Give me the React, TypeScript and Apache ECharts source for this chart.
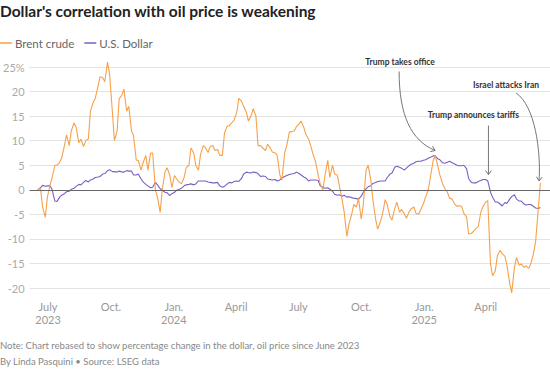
import React, { useEffect, useRef } from "react";
import * as echarts from "echarts";

// Twice-weekly observations (Fridays and the following Tuesdays)
const dates = [
  "2023-06-16","2023-06-20","2023-06-23","2023-06-27","2023-06-30","2023-07-04","2023-07-07","2023-07-11","2023-07-14","2023-07-18","2023-07-21","2023-07-25","2023-07-28","2023-08-01",
  "2023-08-04","2023-08-08","2023-08-11","2023-08-15","2023-08-18","2023-08-22","2023-08-25","2023-08-29","2023-09-01","2023-09-05","2023-09-08","2023-09-12","2023-09-15","2023-09-19","2023-09-22","2023-09-26","2023-09-29","2023-10-03",
  "2023-10-06","2023-10-10","2023-10-13","2023-10-17","2023-10-20","2023-10-24","2023-10-27","2023-10-31","2023-11-03","2023-11-07","2023-11-10","2023-11-14","2023-11-17","2023-11-21","2023-11-24","2023-11-28",
  "2023-12-01","2023-12-05","2023-12-08","2023-12-12","2023-12-15","2023-12-19","2023-12-22","2023-12-26","2023-12-29","2024-01-02",
  "2024-01-05","2024-01-09","2024-01-12","2024-01-16","2024-01-19","2024-01-23","2024-01-26","2024-01-30","2024-02-02","2024-02-06","2024-02-09","2024-02-13","2024-02-16","2024-02-20","2024-02-23","2024-02-27",
  "2024-03-01","2024-03-05","2024-03-08","2024-03-12","2024-03-15","2024-03-19","2024-03-22","2024-03-26","2024-03-29","2024-04-02","2024-04-05","2024-04-09","2024-04-12","2024-04-16","2024-04-19","2024-04-23","2024-04-26","2024-04-30",
  "2024-05-03","2024-05-07","2024-05-10","2024-05-14","2024-05-17","2024-05-21","2024-05-24","2024-05-28","2024-05-31","2024-06-04","2024-06-07","2024-06-11","2024-06-14","2024-06-18","2024-06-21","2024-06-25","2024-06-28","2024-07-02",
  "2024-07-05","2024-07-09","2024-07-12","2024-07-16","2024-07-19","2024-07-23","2024-07-26","2024-07-30","2024-08-02","2024-08-06","2024-08-09","2024-08-13","2024-08-16","2024-08-20","2024-08-23","2024-08-27","2024-08-30","2024-09-03",
  "2024-09-06","2024-09-10","2024-09-13","2024-09-17","2024-09-20","2024-09-24","2024-09-27","2024-10-01","2024-10-04","2024-10-08","2024-10-11","2024-10-15","2024-10-18","2024-10-22","2024-10-25","2024-10-29",
  "2024-11-01","2024-11-05","2024-11-08","2024-11-12","2024-11-15","2024-11-19","2024-11-22","2024-11-26","2024-11-29","2024-12-03","2024-12-06","2024-12-10","2024-12-13","2024-12-17","2024-12-20","2024-12-24","2024-12-27","2024-12-31",
  "2025-01-03","2025-01-07","2025-01-10","2025-01-14","2025-01-17","2025-01-21","2025-01-24","2025-01-28","2025-01-31","2025-02-04","2025-02-07","2025-02-11","2025-02-14","2025-02-18","2025-02-21","2025-02-25","2025-02-28","2025-03-04",
  "2025-03-07","2025-03-11","2025-03-14","2025-03-18","2025-03-21","2025-03-25","2025-03-28","2025-04-01","2025-04-04","2025-04-08","2025-04-11","2025-04-15","2025-04-18","2025-04-22","2025-04-25","2025-04-29",
  "2025-05-02","2025-05-06","2025-05-09","2025-05-13","2025-05-16","2025-05-20","2025-05-23","2025-05-27","2025-05-30","2025-06-03","2025-06-06","2025-06-10","2025-06-13","2025-06-17","2025-06-20"
];

// Brent crude, % change since June 2023
const brent = [
  0, 0.3, -3.5, -5.6, -1.5, 1, 2.5, 5, 5, 5.6, 6.5, 9, 11.2, 9,
  12, 13.6, 12.8, 9.6, 10.3, 8.8, 10, 10.4, 16, 17.8, 18.6, 21, 23, 22.8, 22, 26, 23.5, 16,
  10, 12, 18.5, 19.3, 20.5, 16, 17, 12, 11, 6, 6, 4, 5.5, 7, 4, 7.5,
  7.5, 0, -1.5, -4.6, 0, 3.6, 4.5, 3, 0.5, 2.9,
  2.2, 1.5, 1.2, 2.5, 4.5, 5, 8.5, 7.5, 5, 4, 7.2, 9, 8.6, 7.6,
  8.8, 9, 8, 8.2, 7, 7, 11.5, 13, 13, 13.7, 14.2, 15.8, 18.6, 18, 17, 15.8, 14, 15.1,
  16.5, 15, 9, 9, 8.5, 8, 9.3, 8.5, 7.7, 7.5, 7, 3, 2, 7.5, 9, 11.8, 11.8, 12,
  12.8, 13.4, 14, 12.7, 11.3, 10.3, 9, 7, 5.8, 3, 1.2, 0, 3, 6, 2.5, 5, 3.2, 3,
  0.8, -2, -4.5, -9.5, -7, -5, -3, -3.5, -1.8, -6, -3, 4, 5, 2, -2, -6,
  -8, -6.5, -5, -2, -3, -5.5, -6.2, -3.8, -2.5, -4.6, -4, -4.9, -5.8, -4.5, -3.9, -3.5, -4.8, -5,
  -4, -2.8, -1.5, 0, 2.5, 5.8, 7, 4.8, 3, 1.2, 0.3, -0.5, -1.7, -1.9, -2.8, -3.4, -3.2, -3.4,
  -4.8, -5.5, -9, -8.9, -8.5, -7.8, -7.5, -4.5, -3.4, -2.5, -2.2, -15.1, -17.5, -16.5, -13.5, -12.3,
  -13, -13.5, -15.3, -19, -21, -15.8, -13.8, -15.4, -15.1, -15.8, -15.5, -16, -15, -12.9, -10.5, -3.6, 1.4
];

// U.S. Dollar index, % change since June 2023
const usd = [
  0, 0.4, 0.9, 0.7, 0.8, 0.8, 0, -2.3, -2.4, -1.5, -1.1, -0.8, -0.4, -0.3,
  0.1, 0.3, 0.7, 1.1, 1.0, 1.5, 1.9, 1.6, 2.0, 2.2, 2.5, 2.6, 2.7, 3.2, 3.3, 3.9, 4.1, 3.7,
  3.7, 3.6, 3.8, 3.6, 3.6, 3.9, 3.8, 3.8, 3.0, 3.0, 3.2, 2.2, 1.6, 1.1, 0.8, 0.4,
  0.5, 1.5, 1.0, 0.2, -0.1, -0.5, -0.6, -1.2, -0.8, -0.5,
  -0.1, 0.1, 0.3, 0.8, 1.0, 1.1, 1.2, 1.0, 1.2, 1.8, 1.8, 1.8, 1.8, 1.6,
  1.5, 1.4, 1.4, 1.5, 0.8, 0.5, 0.7, 1.2, 1.5, 1.4, 1.7, 1.8, 1.7, 2.3, 3.2, 3.6, 3.5, 3.4,
  3.6, 3.5, 3.3, 2.7, 2.8, 2.7, 2.2, 2.1, 2.0, 2.1, 1.8, 2.0, 2.4, 2.7, 2.9, 3.1, 3.2, 3.3,
  3.6, 3.3, 3.0, 2.6, 2.4, 1.8, 2.0, 2.0, 2.0, 1.9, 0.8, 0.5, 0.3, 0.4, 0.1, -0.3, -0.9, -1.1,
  -1.0, -1.3, -1.1, -1.5, -1.4, -1.6, -1.7, -1.8, -1.9, -1.3, -0.5, 0.2, 0.6, 0.8, 1.3, 1.5,
  1.7, 1.8, 1.8, 1.8, 2.5, 3.2, 3.4, 4.6, 4.8, 4.6, 4.4, 4.0, 4.4, 4.9, 5.2, 5.4, 5.7, 5.8,
  5.8, 6.0, 6.1, 6.4, 6.6, 6.9, 6.9, 6.3, 6.1, 5.5, 5.4, 5.6, 5.8, 5.5, 5.3, 5.0, 4.9, 4.9,
  5.0, 4.3, 2.3, 1.5, 1.4, 1.4, 1.7, 1.9, 2.1, 2.1, 1.8, -0.5, -1.5, -2.5, -2.5, -2.9,
  -3.3, -2.6, -2.8, -1.9, -1.4, -1.0, -1.9, -2.3, -2.3, -2.9, -3.1, -3.0, -3.0, -3.4, -3.7, -3.8, -3.6
];

const seriesNames = ["Brent crude", "U.S. Dollar"];
const xTickDates = ["2023-07-01", "2023-10-01", "2024-01-01", "2024-04-01", "2024-07-01", "2024-10-01", "2025-01-01", "2025-04-01"];
const xTickLabels = ["July\n2023", "Oct.", "Jan.\n2024", "April", "July", "Oct.", "Jan.\n2025", "April"];
const xRange = ["2023-06-04", "2025-07-04"];
const yRange = [-20, 25];

const annotations = [
  { text: "Trump takes office", date: "2025-01-17", value: 8, label: [-35, -88], start: [-36, -79], c1: [-36, -35], c2: [-24, -10] },
  { text: "Trump announces tariffs", date: "2025-04-05", value: 3.1, label: [-15, -60], start: [0, -49], c1: null, c2: null },
  { text: "Israel attacks Iran", date: "2025-06-18", value: 1.8, label: [-33, -96], start: [-23, -88], c1: [-4, -75], c2: [2, -30] },
];

const FONT = "Lato";
const ORANGE = "#f7a14a";
const PURPLE = "#7a5fc2";

const ts = (d: string) => Date.UTC(+d.slice(0, 4), +d.slice(5, 7) - 1, +d.slice(8, 10));

function arrowHead(tx: number, ty: number, dx: number, dy: number) {
  const len = Math.hypot(dx, dy) || 1;
  const ux = dx / len, uy = dy / len;
  const L = 5, a = Math.PI / 5;
  const rot = (ang: number) => [ux * Math.cos(ang) - uy * Math.sin(ang), ux * Math.sin(ang) + uy * Math.cos(ang)];
  const r1 = rot(a), r2 = rot(-a);
  return [[tx - L * r1[0], ty - L * r1[1]], [tx, ty], [tx - L * r2[0], ty - L * r2[1]]];
}

export default function App() {
  const ref = useRef<HTMLDivElement>(null);
  useEffect(() => {
    if (!ref.current) return;
    const chart = echarts.init(ref.current, undefined, { renderer: "svg" });
    const tickValues = xTickDates.map(ts);
    const option: any = {
      animation: false,
      textStyle: { fontFamily: FONT },
      title: [
        { text: "Dollar's correlation with oil price is weakening", left: 0, top: 3, padding: 0,
          textStyle: { fontFamily: FONT, fontSize: 15.5, fontWeight: "bold", color: "#222" } },
        { text: "Note: Chart rebased to show percentage change in the dollar, oil price since June 2023", left: 0, top: 340, padding: 0,
          textStyle: { fontFamily: FONT, fontSize: 9.5, fontWeight: "normal", color: "#888" } },
        { text: "By Linda Pasquini \u2022 Source: LSEG data", left: 0, top: 356, padding: 0,
          textStyle: { fontFamily: FONT, fontSize: 9.5, fontWeight: "normal", color: "#888" } },
      ],
      legend: {
        data: seriesNames, left: 0, top: 37, padding: 0, icon: "rect", itemWidth: 12, itemHeight: 1.5, itemGap: 10,
        textStyle: { fontFamily: FONT, fontSize: 11.5, color: "#666", padding: [0, 0, 0, -2] },
      },
      grid: { left: 25, right: 0, top: 67, bottom: 81 },
      xAxis: {
        type: "value", min: ts(xRange[0]), max: ts(xRange[1]),
        axisLine: { show: false }, axisTick: { show: false }, splitLine: { show: false },
        axisLabel: {
          customValues: tickValues, margin: 12, color: "#999", fontSize: 11, lineHeight: 13, fontFamily: FONT,
          hideOverlap: false, showMinLabel: true, showMaxLabel: true,
          formatter: (v: number) => {
            const idx = tickValues.findIndex((t) => Math.abs(t - v) < 86400000);
            return idx >= 0 ? xTickLabels[idx] : "";
          },
        },
      },
      yAxis: {
        type: "value", min: yRange[0], max: yRange[1], interval: 5,
        axisLine: { show: false }, axisTick: { show: false },
        splitLine: { lineStyle: { color: "#e3e3e3", width: 1 } },
        axisLabel: { color: "#aaa", fontSize: 11, margin: 5, fontFamily: FONT,
          formatter: (v: number) => (v === yRange[1] ? v + "%" : String(v)) },
      },
      series: [
        {
          name: seriesNames[0], type: "line", showSymbol: false, clip: false,
          data: dates.map((d, i) => [ts(d), brent[i]]),
          lineStyle: { color: ORANGE, width: 1.1 }, itemStyle: { color: ORANGE },
          markLine: { silent: true, symbol: ["none", "none"], label: { show: false },
            lineStyle: { color: "#666", type: "solid", width: 1 }, data: [{ yAxis: 0 }] },
          z: 3,
        },
        {
          name: seriesNames[1], type: "line", showSymbol: false, clip: false,
          data: dates.map((d, i) => [ts(d), usd[i]]),
          lineStyle: { color: PURPLE, width: 1.1 }, itemStyle: { color: PURPLE },
          z: 2,
        },
      ],
    };
    chart.setOption(option);

    const elements: any[] = [];
    annotations.forEach((a) => {
      const p = chart.convertToPixel({ xAxisIndex: 0, yAxisIndex: 0 }, [ts(a.date), a.value]) as number[];
      if (!p) return;
      const [tx, ty] = p;
      const sx = tx + a.start[0], sy = ty + a.start[1];
      elements.push({
        type: "text", x: tx + a.label[0], y: ty + a.label[1], silent: true,
        style: { text: a.text, fontFamily: FONT, fontSize: 8.5, fontWeight: "bold", fill: "#333", align: "center", verticalAlign: "middle" },
      });
      let dx = 0, dy = 1;
      if (a.c1 && a.c2) {
        const c1x = tx + a.c1[0], c1y = ty + a.c1[1], c2x = tx + a.c2[0], c2y = ty + a.c2[1];
        elements.push({
          type: "bezierCurve", silent: true,
          shape: { x1: sx, y1: sy, cpx1: c1x, cpy1: c1y, cpx2: c2x, cpy2: c2y, x2: tx, y2: ty },
          style: { stroke: "#777", lineWidth: 1, fill: "none" },
        });
        dx = tx - c2x; dy = ty - c2y;
      } else {
        elements.push({
          type: "line", silent: true, shape: { x1: sx, y1: sy, x2: tx, y2: ty },
          style: { stroke: "#777", lineWidth: 1 },
        });
        dx = tx - sx; dy = ty - sy;
      }
      elements.push({
        type: "polyline", silent: true, shape: { points: arrowHead(tx, ty, dx, dy) },
        style: { stroke: "#777", lineWidth: 1, fill: "none" },
      });
    });
    chart.setOption({ graphic: elements });

    return () => chart.dispose();
  }, []);
  return <div ref={ref} style={{ position: "absolute", left: 0, top: 0, width: 550, height: 369 }} />;
}
